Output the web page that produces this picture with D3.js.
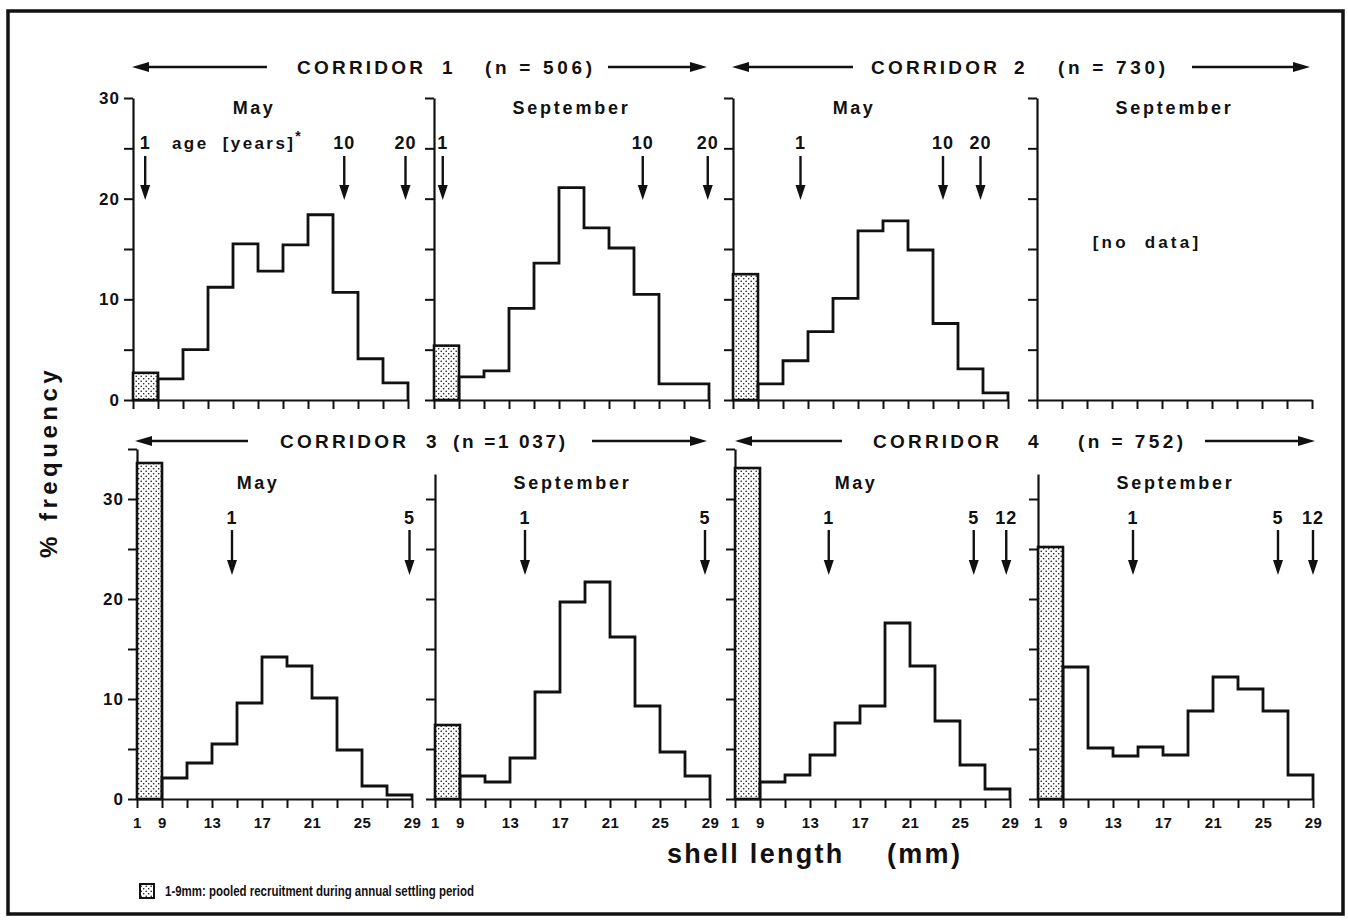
<!DOCTYPE html>
<html>
<head>
<meta charset="utf-8">
<script src="https://cdn.jsdelivr.net/npm/d3@7"></script>
<style>
  html, body { margin: 0; padding: 0; background: #fff; }
  svg { display: block; }
  text { font-family: "Liberation Sans", Arial, Helvetica, sans-serif; font-weight: bold; fill: #111; white-space: pre; }
</style>
</head>
<body>
<svg id="chart" width="1348" height="920"></svg>
<script>
// Shell-length bins (mm): the first bin 1-9 pools the recruits, the rest are 2 mm wide
const binEdges = [1, 9, 11, 13, 15, 17, 19, 21, 23, 25, 27, 29];
const xTickLabels = [1, 9, 13, 17, 21, 25, 29];
const yTicksTop = [0, 5, 10, 15, 20, 25, 30];
const yTicksBottom = [0, 5, 10, 15, 20, 25, 30, 35];
const yTickLabels = [0, 10, 20, 30];

const corridorWord = "CORRIDOR";
const corridorNumbers = ["1", "2", "3", "4"];
const sampleSizes = ["(n = 506)", "(n = 730)", "(n =1 037)", "(n = 752)"];
const months = ["May", "September"];

// % frequency per bin (first value = 1-9 mm recruits)
const c1May = [2.7, 2.1, 5.0, 11.2, 15.5, 12.8, 15.4, 18.4, 10.7, 4.1, 1.7];
const c1Sep = [5.4, 2.3, 2.9, 9.1, 13.6, 21.1, 17.1, 15.1, 10.5, 1.6, 1.6];
const c2May = [12.5, 1.6, 3.9, 6.8, 10.1, 16.8, 17.8, 14.9, 7.6, 3.1, 0.7];
const c2Sep = null;
const c3May = [33.6, 2.1, 3.6, 5.5, 9.6, 14.2, 13.3, 10.1, 4.9, 1.3, 0.4];
const c3Sep = [7.4, 2.3, 1.7, 4.1, 10.7, 19.7, 21.7, 16.2, 9.3, 4.7, 2.3];
const c4May = [33.1, 1.7, 2.4, 4.4, 7.6, 9.3, 17.6, 13.3, 7.8, 3.4, 1.0];
const c4Sep = [25.2, 13.2, 5.1, 4.3, 5.2, 4.4, 8.8, 12.2, 11.0, 8.8, 2.4];

// Shell length (mm) reached at a given age (years)
const c1MayAges = [[1, 4.9], [10, 23.9], [20, 28.8]];
const c1SepAges = [[1, 3.8], [10, 23.7], [20, 28.9]];
const c2MayAges = [[1, 12.4], [10, 23.8], [20, 26.8]];
const c2SepAges = [];
const c3MayAges = [[1, 14.6], [5, 28.8]];
const c3SepAges = [[1, 14.2], [5, 28.6]];
const c4MayAges = [[1, 14.5], [5, 26.1], [12, 28.7]];
const c4SepAges = [[1, 14.6], [5, 26.2], [12, 29.0]];

const panels = [
  { row: 0, col: 0, month: months[0], values: c1May, ages: c1MayAges, axisTop: 30 },
  { row: 0, col: 1, month: months[1], values: c1Sep, ages: c1SepAges, axisTop: 30 },
  { row: 0, col: 2, month: months[0], values: c2May, ages: c2MayAges, axisTop: 30 },
  { row: 0, col: 3, month: months[1], values: c2Sep, ages: c2SepAges, axisTop: 30 },
  { row: 1, col: 0, month: months[0], values: c3May, ages: c3MayAges, axisTop: 35 },
  { row: 1, col: 1, month: months[1], values: c3Sep, ages: c3SepAges, axisTop: 32.5 },
  { row: 1, col: 2, month: months[0], values: c4May, ages: c4MayAges, axisTop: 35 },
  { row: 1, col: 3, month: months[1], values: c4Sep, ages: c4SepAges, axisTop: 32.5 }
];

// ---- layout ----
const panelW = 275;
const rows = [
  { base: 400, top: 98, max: 30, ticks: yTicksTop, xs: [133, 434, 733, 1037], labelY: 143, arrowTop: 156, arrowBot: 200, monthY: 108, headY: 67 },
  { base: 799, top: 449, max: 35, ticks: yTicksBottom, xs: [137, 435, 735, 1038], labelY: 518, arrowTop: 530, arrowBot: 575, monthY: 483, headY: 441 }
];
const headers = [
  { row: 0, la: [132, 267], t: 297, num: 442, n: 485, nw: 107, ra: [608, 707] },
  { row: 0, la: [732, 853], t: 871, num: 1014, n: 1058, nw: 107, ra: [1192, 1310] },
  { row: 1, la: [135, 248], t: 280, num: 426, n: 453, nw: 112, ra: [592, 707] },
  { row: 1, la: [735, 842], t: 873, num: 1028, n: 1078, nw: 105, ra: [1205, 1315] }
];

const svg = d3.select("#chart");
const ink = "#111";

// stipple fill for the pooled recruit bin
const defs = svg.append("defs");
const pat = defs.append("pattern").attr("id", "stipple")
  .attr("patternUnits", "userSpaceOnUse").attr("width", 5).attr("height", 5);
pat.append("rect").attr("width", 5).attr("height", 5).attr("fill", "#fff");
pat.append("circle").attr("cx", 1.2).attr("cy", 1.2).attr("r", 0.8).attr("fill", ink);
pat.append("circle").attr("cx", 3.7).attr("cy", 3.7).attr("r", 0.8).attr("fill", ink);

// outer frame
svg.append("rect").attr("x", 8).attr("y", 11).attr("width", 1335).attr("height", 903)
  .attr("fill", "none").attr("stroke", ink).attr("stroke-width", 3.5);

function hArrow(g, x1, x2, y, headAt) {
  const hx = headAt === "left" ? x1 : x2;
  const dir = headAt === "left" ? 1 : -1;
  g.append("line").attr("x1", x1 + (headAt === "left" ? 10 : 0)).attr("x2", x2 - (headAt === "left" ? 0 : 10))
    .attr("y1", y).attr("y2", y).attr("stroke", ink).attr("stroke-width", 2.6);
  g.append("path").attr("d", `M${hx},${y} L${hx + dir * 17},${y - 5} L${hx + dir * 17},${y + 5} Z`).attr("fill", ink);
}

// corridor headers
headers.forEach((h, i) => {
  const r = rows[h.row];
  const g = svg.append("g");
  hArrow(g, h.la[0], h.la[1], r.headY, "left");
  hArrow(g, h.ra[0], h.ra[1], r.headY, "right");
  g.append("text").attr("x", h.t).attr("y", r.headY).attr("dy", "0.36em")
    .attr("font-size", 19).attr("textLength", 126).attr("lengthAdjust", "spacing").text(corridorWord);
  g.append("text").attr("x", h.num).attr("y", r.headY).attr("dy", "0.36em")
    .attr("font-size", 19).text(corridorNumbers[i]);
  g.append("text").attr("x", h.n).attr("y", r.headY).attr("dy", "0.36em")
    .attr("font-size", 19).attr("textLength", h.nw).attr("lengthAdjust", "spacing").text(sampleSizes[i]);
});

panels.forEach(p => {
  const r = rows[p.row];
  const x0 = r.xs[p.col];
  const bw = panelW / 11;
  const x = d3.scaleLinear().domain([1, 9, 29]).range([x0, x0 + bw, x0 + panelW]);
  const y = d3.scaleLinear().domain([0, r.max]).range([r.base, r.top]);
  const g = svg.append("g");

  // y axis, drawn up to this panel's own top
  const yAx = y.copy().domain([0, p.axisTop]).range([y(0), y(p.axisTop)]);
  const yAxis = d3.axisLeft(yAx).tickValues(r.ticks.filter(t => t <= p.axisTop))
    .tickSize(9).tickSizeOuter(0).tickPadding(4)
    .tickFormat(d => (p.col === 0 && yTickLabels.includes(d)) ? d : "");
  const ya = g.append("g").attr("transform", `translate(${x0},0)`).call(yAxis);
  ya.select(".domain").attr("stroke", ink).attr("stroke-width", 2.2);
  ya.selectAll(".tick line").attr("stroke", ink).attr("stroke-width", 2);
  ya.selectAll(".tick text").attr("font-size", 17).attr("font-family", "Liberation Sans, Arial, sans-serif")
    .attr("font-weight", "bold").attr("fill", ink).attr("letter-spacing", 1);

  // x axis
  const xAxis = d3.axisBottom(x).tickValues(binEdges).tickSize(9).tickSizeOuter(0).tickPadding(9)
    .tickFormat(d => (p.row === 1 && xTickLabels.includes(d)) ? d : "");
  const xa = g.append("g").attr("transform", `translate(0,${r.base})`).call(xAxis);
  xa.select(".domain").attr("stroke", ink).attr("stroke-width", 2.2);
  xa.selectAll(".tick line").attr("stroke", ink).attr("stroke-width", 2);
  xa.selectAll(".tick text").attr("font-size", 15).attr("font-family", "Liberation Sans, Arial, sans-serif")
    .attr("font-weight", "bold").attr("fill", ink).attr("letter-spacing", 0.5);

  // month title
  const monthX = p.month === "May" ? x0 + panelW * 0.44 : x0 + panelW * 0.5;
  g.append("text").attr("x", monthX).attr("y", r.monthY).attr("dy", "0.36em")
    .attr("text-anchor", "middle").attr("font-size", 18)
    .attr("letter-spacing", p.month === "May" ? 2.5 : 2.8).text(p.month);

  if (p.values) {
    // pooled recruits (1-9 mm)
    g.append("rect").attr("x", x(binEdges[0])).attr("y", y(p.values[0]))
      .attr("width", x(binEdges[1]) - x(binEdges[0])).attr("height", y(0) - y(p.values[0]))
      .attr("fill", "url(#stipple)").attr("stroke", ink).attr("stroke-width", 2.6);

    // stepped outline for the 2 mm classes
    const pts = [[binEdges[1], 0]];
    for (let i = 1; i < p.values.length; i++) pts.push([binEdges[i], p.values[i]]);
    pts.push([binEdges[binEdges.length - 1], p.values[p.values.length - 1]]);
    pts.push([binEdges[binEdges.length - 1], 0]);
    const line = d3.line().x(d => x(d[0])).y(d => y(d[1])).curve(d3.curveStepAfter);
    g.append("path").attr("d", line(pts)).attr("fill", "none")
      .attr("stroke", ink).attr("stroke-width", 2.8).attr("stroke-linejoin", "miter");
  } else {
    g.append("text").attr("x", x0 + panelW * 0.4).attr("y", y(15.7)).attr("dy", "0.36em")
      .attr("text-anchor", "middle").attr("font-size", 17).attr("letter-spacing", 3.2).text("[no  data]");
  }

  // age markers
  p.ages.forEach(([age, mm]) => {
    const ax = x(mm);
    g.append("text").attr("x", ax).attr("y", r.labelY).attr("dy", "0.36em")
      .attr("text-anchor", "middle").attr("font-size", 18).attr("letter-spacing", 1).text(age);
    g.append("line").attr("x1", ax).attr("x2", ax).attr("y1", r.arrowTop).attr("y2", r.arrowBot - 12)
      .attr("stroke", ink).attr("stroke-width", 2.4);
    g.append("path").attr("d", `M${ax},${r.arrowBot} L${ax - 5},${r.arrowBot - 15} L${ax + 5},${r.arrowBot - 15} Z`).attr("fill", ink);
  });

  if (p.row === 0 && p.col === 0) {
    const t = g.append("text").attr("x", 172).attr("y", r.labelY).attr("dy", "0.36em")
      .attr("font-size", 17).attr("letter-spacing", 2.4).text("age  [years]");
    t.append("tspan").attr("dy", -8).attr("font-size", 14).text("*");
  }
});

// axis titles
svg.append("text").attr("transform", "translate(48,462) rotate(-90)").attr("dy", "0.36em")
  .attr("text-anchor", "middle").attr("font-size", 24).attr("letter-spacing", 4.5).text("% frequency");
svg.append("text").attr("x", 667).attr("y", 863).attr("font-size", 27).attr("letter-spacing", 2.3).text("shell length");
svg.append("text").attr("x", 887).attr("y", 863).attr("font-size", 27).attr("letter-spacing", 2.3).text("(mm)");

// legend
svg.append("rect").attr("x", 140).attr("y", 884).attr("width", 14).attr("height", 14)
  .attr("fill", "url(#stipple)").attr("stroke", ink).attr("stroke-width", 2);
svg.append("text").attr("x", 165).attr("y", 896).attr("font-size", 14)
  .attr("textLength", 309).attr("lengthAdjust", "spacingAndGlyphs")
  .text("1-9mm: pooled recruitment during annual settling period");
</script>
</body>
</html>
